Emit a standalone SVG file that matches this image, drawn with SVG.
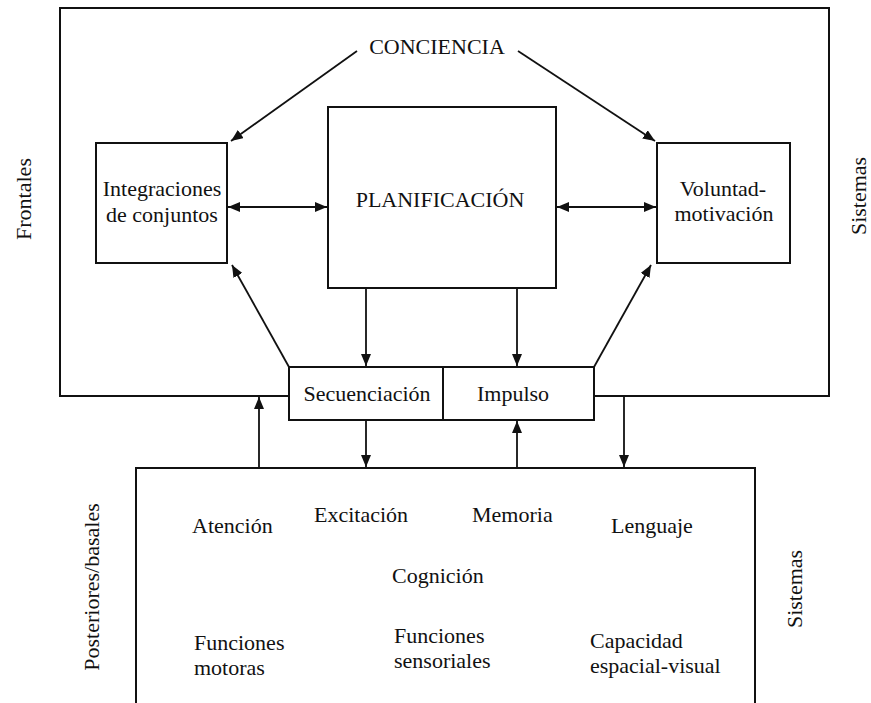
<svg xmlns="http://www.w3.org/2000/svg" width="871" height="703" viewBox="0 0 871 703">
  <style>
    .box { fill: none; stroke: #111; stroke-width: 2; }
    .ln { fill: none; stroke: #111; stroke-width: 1.8; }
    text { font-family: 'Liberation Serif', 'Times New Roman', Times, 'DejaVu Serif', serif; font-size: 22px; fill: #111; }
    .m { text-anchor: middle; }
  </style>
  <defs>
    <marker id="ah" viewBox="0 0 12 10" refX="12" refY="5" markerWidth="12" markerHeight="10" markerUnits="userSpaceOnUse" orient="auto-start-reverse">
      <path d="M0,0 L12,5 L0,10 z" fill="#111"/>
    </marker>
  </defs>
  <rect width="871" height="703" fill="#fff"/>

  <!-- frontal systems frame, broken by the sequencing/impulse block -->
  <g id="frontal-frame">
    <path class="box" d="M289,396 H60 V8 H829 V396 H594"/>
    <text class="m" transform="translate(31,199) rotate(-90)">Frontales</text>
    <text class="m" transform="translate(866,196) rotate(-90)">Sistemas</text>
  </g>

  <g id="conciencia">
    <text class="m" x="437" y="54">CONCIENCIA</text>
  </g>

  <g id="integraciones">
    <rect class="box" x="96" y="143" width="131" height="120"/>
    <text class="m" x="162" y="196">Integraciones</text>
    <text class="m" x="162" y="222">de conjuntos</text>
  </g>

  <g id="planificacion">
    <rect class="box" x="328" y="107" width="228" height="181"/>
    <text class="m" x="440" y="207">PLANIFICACIÓN</text>
  </g>

  <g id="voluntad">
    <rect class="box" x="657" y="143" width="133" height="120"/>
    <text class="m" x="723" y="196">Voluntad-</text>
    <text class="m" x="724" y="221">motivación</text>
  </g>

  <g id="secuenciacion-impulso">
    <rect class="box" x="289" y="367" width="305" height="53"/>
    <line class="box" x1="443" y1="367" x2="443" y2="420"/>
    <text class="m" x="367" y="401">Secuenciación</text>
    <text class="m" x="513" y="401">Impulso</text>
  </g>

  <!-- posterior/basal systems, open at the bottom edge -->
  <g id="posteriores">
    <path class="box" d="M136,710 V468 H755 V710"/>
    <text class="m" transform="translate(99,587) rotate(-90)">Posteriores/basales</text>
    <text class="m" transform="translate(802,589) rotate(-90)">Sistemas</text>
    <text x="192" y="533">Atención</text>
    <text x="314" y="522">Excitación</text>
    <text x="472" y="522">Memoria</text>
    <text x="611" y="533">Lenguaje</text>
    <text x="392" y="583">Cognición</text>
    <text x="194" y="650">Funciones</text>
    <text x="194" y="675">motoras</text>
    <text x="394" y="643">Funciones</text>
    <text x="394" y="668">sensoriales</text>
    <text x="590" y="648">Capacidad</text>
    <text x="590" y="673">espacial-visual</text>
  </g>

  <g id="connectors">
    <line class="ln" x1="357" y1="51" x2="231" y2="141" marker-end="url(#ah)"/>
    <line class="ln" x1="518" y1="51" x2="655" y2="141" marker-end="url(#ah)"/>
    <line class="ln" x1="228" y1="207" x2="327" y2="207" marker-start="url(#ah)" marker-end="url(#ah)"/>
    <line class="ln" x1="557" y1="207" x2="656" y2="207" marker-start="url(#ah)" marker-end="url(#ah)"/>
    <line class="ln" x1="366" y1="289" x2="366" y2="366" marker-end="url(#ah)"/>
    <line class="ln" x1="517" y1="289" x2="517" y2="366" marker-end="url(#ah)"/>
    <line class="ln" x1="289" y1="367" x2="232" y2="265" marker-end="url(#ah)"/>
    <line class="ln" x1="594" y1="367" x2="651" y2="265" marker-end="url(#ah)"/>
    <line class="ln" x1="366" y1="421" x2="366" y2="467" marker-end="url(#ah)"/>
    <line class="ln" x1="517" y1="467" x2="517" y2="421" marker-end="url(#ah)"/>
    <line class="ln" x1="259" y1="467" x2="259" y2="397" marker-end="url(#ah)"/>
    <line class="ln" x1="624" y1="397" x2="624" y2="467" marker-end="url(#ah)"/>
  </g>
</svg>
